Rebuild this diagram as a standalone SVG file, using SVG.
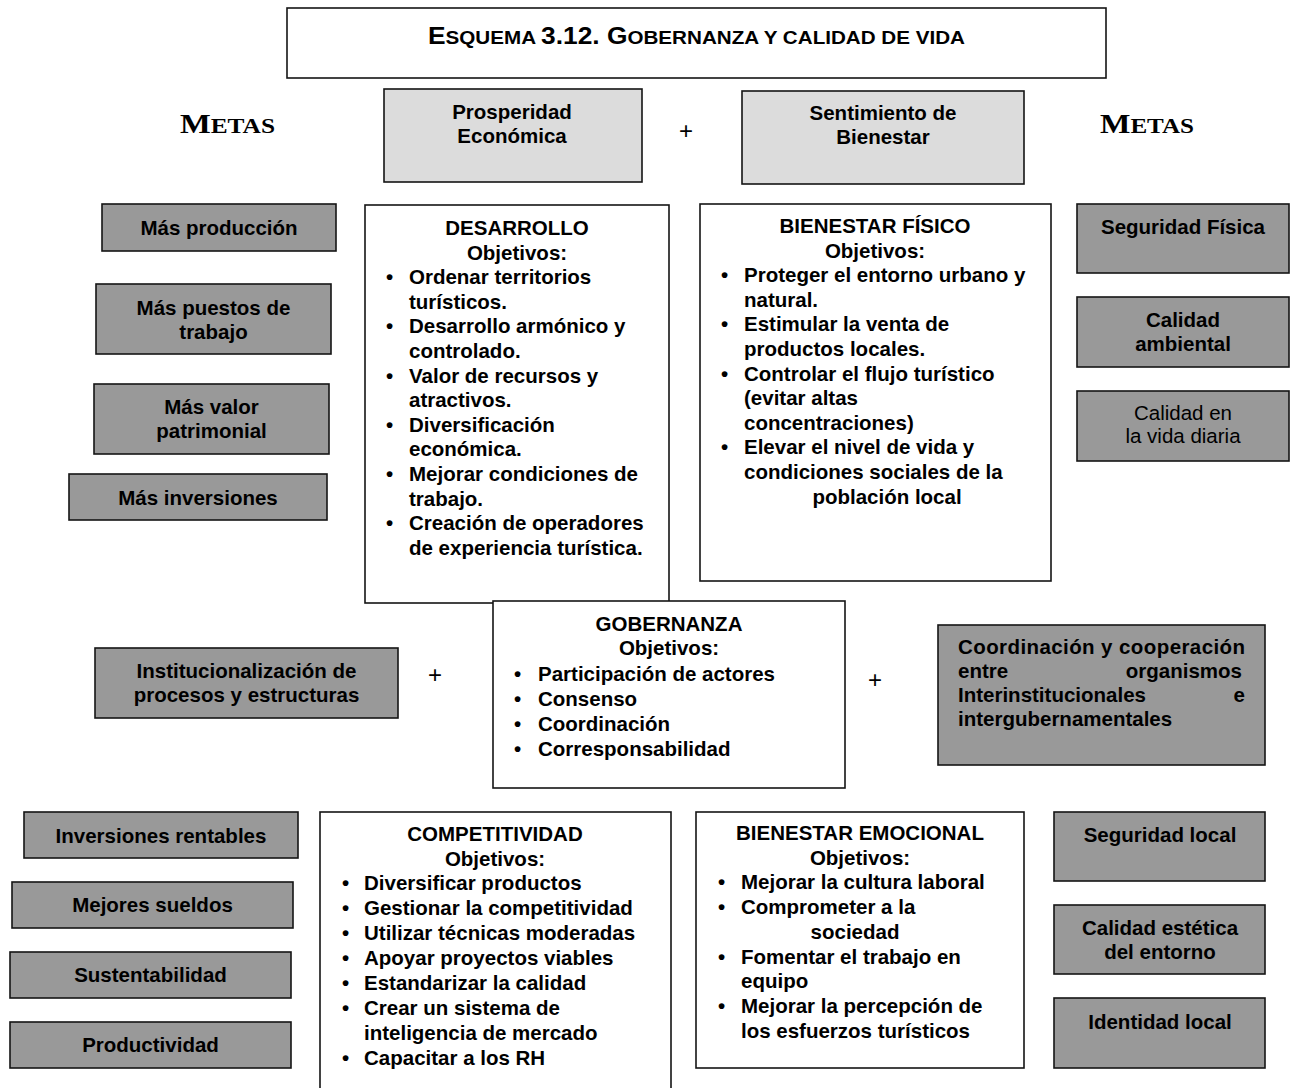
<svg xmlns="http://www.w3.org/2000/svg" width="1293" height="1088" viewBox="0 0 1293 1088">
  <style>
    .bg { fill: #ffffff; }
    .box { stroke: #141414; stroke-width: 1.6; }
    .white { fill: #ffffff; }
    .light { fill: #dcdcdc; }
    .grey { fill: #999999; }
    .t { font-family: "Liberation Sans", Arial, sans-serif; font-weight: bold; font-size: 20.5px; fill: #000000; }
    .reg { font-weight: normal; }
    .c { text-anchor: middle; }
    .e { text-anchor: end; }
    .metas { font-family: "Liberation Serif", "Times New Roman", serif; font-weight: bold; fill: #000000; }
    .plus { font-family: "Liberation Sans", Arial, sans-serif; font-size: 24px; fill: #000000; text-anchor: middle; }
  </style>

  <rect class="bg" x="0" y="0" width="1293" height="1088"/>

  <!-- Title -->
  <g id="title">
    <rect class="box white" x="287" y="8" width="819" height="70"/>
    <text class="t" x="428" y="44" textLength="537" lengthAdjust="spacingAndGlyphs"><tspan font-size="23px">E</tspan><tspan font-size="18px">SQUEMA </tspan><tspan font-size="23px">3.12. G</tspan><tspan font-size="18px">OBERNANZA Y CALIDAD DE VIDA</tspan></text>
  </g>

  <!-- Column headings -->
  <g id="metas-left">
    <text class="metas" x="180" y="133" textLength="95" lengthAdjust="spacingAndGlyphs"><tspan font-size="27px">M</tspan><tspan font-size="21px">ETAS</tspan></text>
  </g>
  <g id="metas-right">
    <text class="metas" x="1100" y="133" textLength="94" lengthAdjust="spacingAndGlyphs"><tspan font-size="27px">M</tspan><tspan font-size="21px">ETAS</tspan></text>
  </g>

  <!-- Top goals -->
  <g id="prosperidad">
    <rect class="box light" x="384" y="89" width="258" height="93"/>
    <text class="t c" x="512" y="119">Prosperidad</text>
    <text class="t c" x="512" y="143">Económica</text>
  </g>
  <g id="sentimiento">
    <rect class="box light" x="742" y="91" width="282" height="93"/>
    <text class="t c" x="883" y="120">Sentimiento de</text>
    <text class="t c" x="883" y="144">Bienestar</text>
  </g>

  <!-- Left goals (economic) -->
  <g id="mas-produccion">
    <rect class="box grey" x="102" y="204" width="234" height="47"/>
    <text class="t c" x="219" y="235">Más producción</text>
  </g>
  <g id="mas-puestos">
    <rect class="box grey" x="96" y="284" width="235" height="70"/>
    <text class="t c" x="213.5" y="315">Más puestos de</text>
    <text class="t c" x="213.5" y="339">trabajo</text>
  </g>
  <g id="mas-valor">
    <rect class="box grey" x="94" y="384" width="235" height="70"/>
    <text class="t c" x="211.5" y="414">Más valor</text>
    <text class="t c" x="211.5" y="438">patrimonial</text>
  </g>
  <g id="mas-inversiones">
    <rect class="box grey" x="69" y="474" width="258" height="46"/>
    <text class="t c" x="198" y="505">Más inversiones</text>
  </g>

  <!-- Desarrollo -->
  <g id="desarrollo">
    <rect class="box white" x="365" y="205" width="304" height="398"/>
    <text class="t c" x="517" y="235">DESARROLLO</text>
    <text class="t c" x="517" y="259.6">Objetivos:</text>
    <g class="t">
      <text x="386" y="284.2">•</text><text x="409" y="284.2">Ordenar territorios</text>
      <text x="409" y="308.8">turísticos.</text>
      <text x="386" y="333.4">•</text><text x="409" y="333.4">Desarrollo armónico y</text>
      <text x="409" y="358">controlado.</text>
      <text x="386" y="382.6">•</text><text x="409" y="382.6">Valor de recursos y</text>
      <text x="409" y="407.2">atractivos.</text>
      <text x="386" y="431.8">•</text><text x="409" y="431.8">Diversificación</text>
      <text x="409" y="456.4">económica.</text>
      <text x="386" y="481">•</text><text x="409" y="481">Mejorar condiciones de</text>
      <text x="409" y="505.6">trabajo.</text>
      <text x="386" y="530.2">•</text><text x="409" y="530.2">Creación de operadores</text>
      <text x="409" y="554.8">de experiencia turística.</text>
    </g>
  </g>

  <!-- Bienestar físico -->
  <g id="bienestar-fisico">
    <rect class="box white" x="700" y="204" width="351" height="377"/>
    <text class="t c" x="875" y="233">BIENESTAR FÍSICO</text>
    <text class="t c" x="875" y="257.6">Objetivos:</text>
    <g class="t">
      <text x="721" y="282.2">•</text><text x="744" y="282.2">Proteger el entorno urbano y</text>
      <text x="744" y="306.8">natural.</text>
      <text x="721" y="331.4">•</text><text x="744" y="331.4">Estimular la venta de</text>
      <text x="744" y="356">productos locales.</text>
      <text x="721" y="380.6">•</text><text x="744" y="380.6">Controlar el flujo turístico</text>
      <text x="744" y="405.2">(evitar altas</text>
      <text x="744" y="429.8">concentraciones)</text>
      <text x="721" y="454.4">•</text><text x="744" y="454.4">Elevar el nivel de vida y</text>
      <text x="744" y="479">condiciones sociales de la</text>
      <text class="c" x="887" y="503.6">población local</text>
    </g>
  </g>

  <!-- Right goals (well-being) -->
  <g id="seguridad-fisica">
    <rect class="box grey" x="1077" y="204" width="212" height="69"/>
    <text class="t c" x="1183" y="234">Seguridad Física</text>
  </g>
  <g id="calidad-ambiental">
    <rect class="box grey" x="1077" y="297" width="212" height="70"/>
    <text class="t c" x="1183" y="327">Calidad</text>
    <text class="t c" x="1183" y="351">ambiental</text>
  </g>
  <g id="calidad-vida">
    <rect class="box grey" x="1077" y="391" width="212" height="70"/>
    <text class="t reg c" x="1183" y="420">Calidad en</text>
    <text class="t reg c" x="1183" y="443">la vida diaria</text>
  </g>

  <!-- Governance row -->
  <g id="institucionalizacion">
    <rect class="box grey" x="95" y="648" width="303" height="70"/>
    <text class="t c" x="246.5" y="678">Institucionalización de</text>
    <text class="t c" x="246.5" y="702">procesos y estructuras</text>
  </g>
  <g id="gobernanza">
    <rect class="box white" x="493" y="601" width="352" height="187"/>
    <text class="t c" x="669" y="631">GOBERNANZA</text>
    <text class="t c" x="669" y="655">Objetivos:</text>
    <g class="t">
      <text x="514" y="680.5">•</text><text x="538" y="680.5">Participación de actores</text>
      <text x="514" y="705.5">•</text><text x="538" y="705.5">Consenso</text>
      <text x="514" y="730.5">•</text><text x="538" y="730.5">Coordinación</text>
      <text x="514" y="755.5">•</text><text x="538" y="755.5">Corresponsabilidad</text>
    </g>
  </g>
  <g id="coordinacion">
    <rect class="box grey" x="938" y="625" width="327" height="140"/>
    <g class="t">
      <text x="958" y="654" textLength="287" lengthAdjust="spacing">Coordinación y cooperación</text>
      <text x="958" y="678">entre</text><text class="e" x="1242" y="678">organismos</text>
      <text x="958" y="702">Interinstitucionales</text><text class="e" x="1245" y="702">e</text>
      <text x="958" y="726">intergubernamentales</text>
    </g>
  </g>

  <!-- Links between governance boxes -->
  <g id="connectors">
    <text class="plus" x="686" y="139">+</text>
    <text class="plus" x="435" y="683">+</text>
    <text class="plus" x="875" y="688">+</text>
  </g>

  <!-- Bottom left goals -->
  <g id="inversiones-rentables">
    <rect class="box grey" x="24" y="812" width="274" height="46"/>
    <text class="t c" x="161" y="843">Inversiones rentables</text>
  </g>
  <g id="mejores-sueldos">
    <rect class="box grey" x="12" y="882" width="281" height="46"/>
    <text class="t c" x="152.5" y="912">Mejores sueldos</text>
  </g>
  <g id="sustentabilidad">
    <rect class="box grey" x="10" y="952" width="281" height="46"/>
    <text class="t c" x="150.5" y="982">Sustentabilidad</text>
  </g>
  <g id="productividad">
    <rect class="box grey" x="10" y="1022" width="281" height="46"/>
    <text class="t c" x="150.5" y="1052">Productividad</text>
  </g>

  <!-- Competitividad -->
  <g id="competitividad">
    <rect class="box white" x="320" y="812" width="351" height="290"/>
    <text class="t c" x="495" y="841">COMPETITIVIDAD</text>
    <text class="t c" x="495" y="865.5">Objetivos:</text>
    <g class="t">
      <text x="342" y="890.4">•</text><text x="364" y="890.4">Diversificar productos</text>
      <text x="342" y="915.3">•</text><text x="364" y="915.3">Gestionar la competitividad</text>
      <text x="342" y="940.2">•</text><text x="364" y="940.2">Utilizar técnicas moderadas</text>
      <text x="342" y="965.1">•</text><text x="364" y="965.1">Apoyar proyectos viables</text>
      <text x="342" y="990">•</text><text x="364" y="990">Estandarizar la calidad</text>
      <text x="342" y="1014.9">•</text><text x="364" y="1014.9">Crear un sistema de</text>
      <text x="364" y="1039.8">inteligencia de mercado</text>
      <text x="342" y="1064.7">•</text><text x="364" y="1064.7">Capacitar a los RH</text>
    </g>
  </g>

  <!-- Bienestar emocional -->
  <g id="bienestar-emocional">
    <rect class="box white" x="696" y="812" width="328" height="256"/>
    <text class="t c" x="860" y="840">BIENESTAR EMOCIONAL</text>
    <text class="t c" x="860" y="864.7">Objetivos:</text>
    <g class="t">
      <text x="718" y="889.4">•</text><text x="741" y="889.4">Mejorar la cultura laboral</text>
      <text x="718" y="914.1">•</text><text x="741" y="914.1">Comprometer a la</text>
      <text class="c" x="855" y="938.8">sociedad</text>
      <text x="718" y="963.5">•</text><text x="741" y="963.5">Fomentar el trabajo en</text>
      <text x="741" y="988.2">equipo</text>
      <text x="718" y="1012.9">•</text><text x="741" y="1012.9">Mejorar la percepción de</text>
      <text x="741" y="1037.6">los esfuerzos turísticos</text>
    </g>
  </g>

  <!-- Bottom right goals -->
  <g id="seguridad-local">
    <rect class="box grey" x="1054" y="812" width="211" height="69"/>
    <text class="t c" x="1160" y="842">Seguridad local</text>
  </g>
  <g id="calidad-estetica">
    <rect class="box grey" x="1054" y="905" width="211" height="69"/>
    <text class="t c" x="1160" y="935">Calidad estética</text>
    <text class="t c" x="1160" y="959">del entorno</text>
  </g>
  <g id="identidad-local">
    <rect class="box grey" x="1054" y="998" width="211" height="70"/>
    <text class="t c" x="1160" y="1029">Identidad local</text>
  </g>
</svg>
